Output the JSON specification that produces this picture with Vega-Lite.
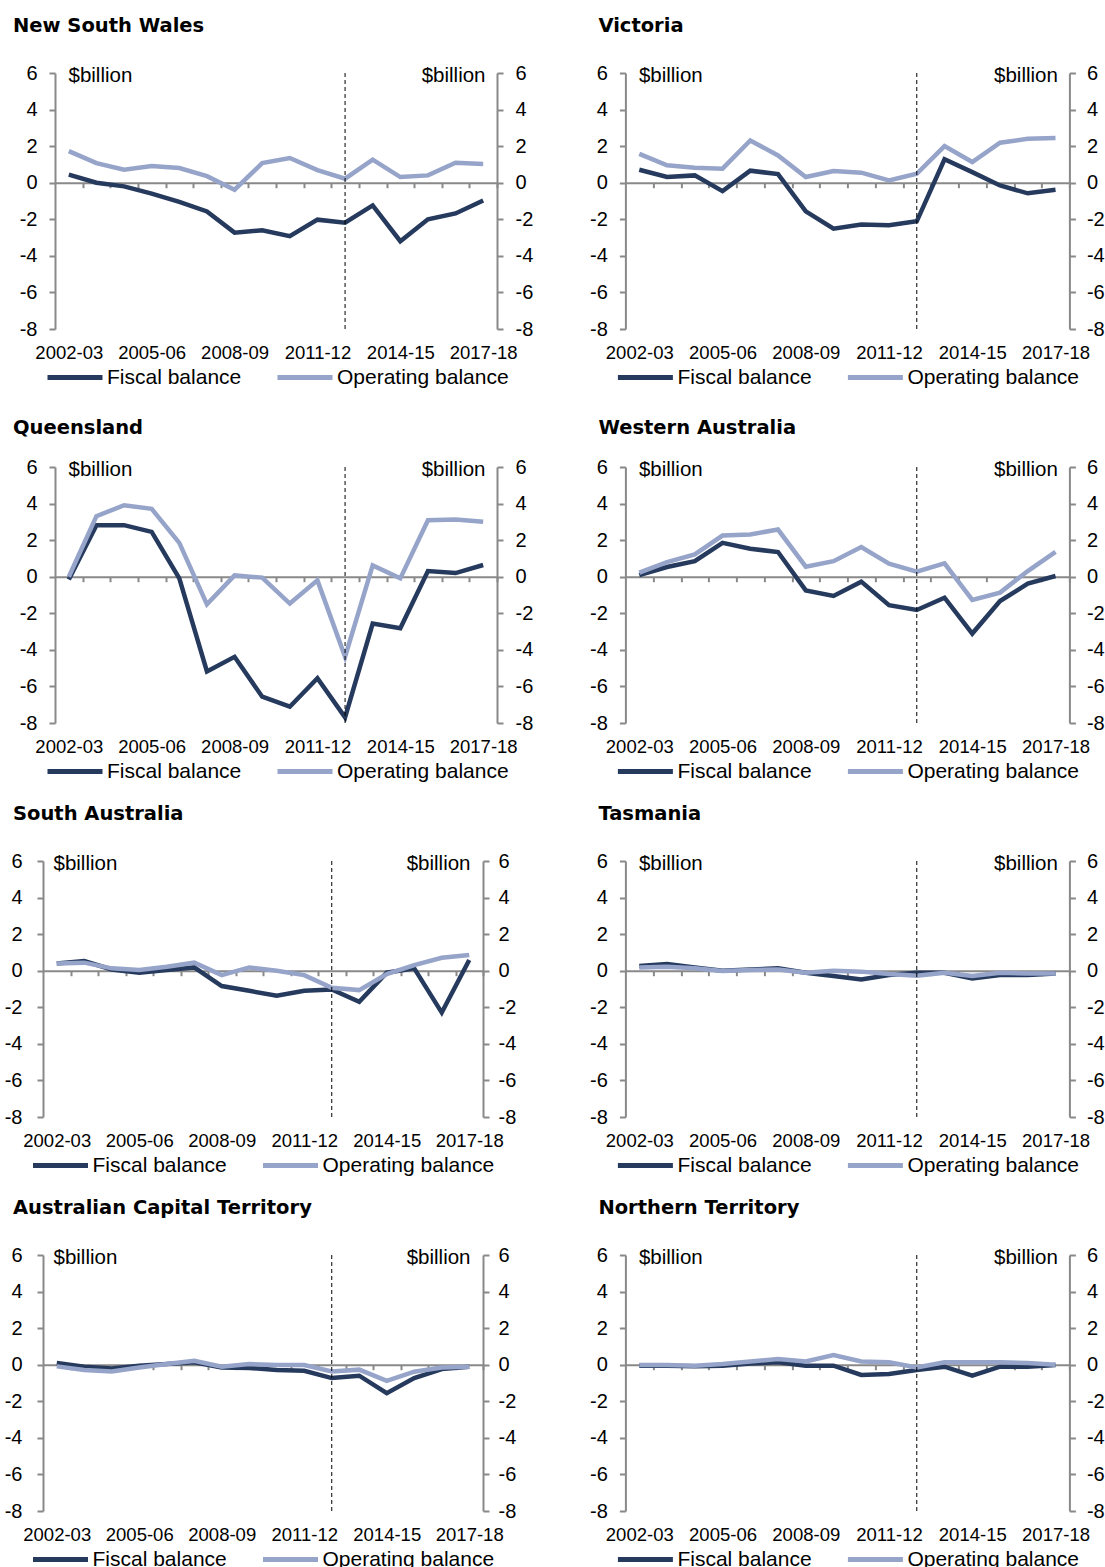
{
"$schema": "https://vega.github.io/schema/vega-lite/v6.json",
"padding": {"left": 3, "top": 15, "right": 0, "bottom": 0},
"background": "white",
"datasets": {"fb": [
{"s":"NSW","y":"2002-03","Fiscal balance":0.44,"Operating balance":1.73},
{"s":"NSW","y":"2003-04","Fiscal balance":0.0,"Operating balance":1.07},
{"s":"NSW","y":"2004-05","Fiscal balance":-0.2,"Operating balance":0.71},
{"s":"NSW","y":"2005-06","Fiscal balance":-0.6,"Operating balance":0.91},
{"s":"NSW","y":"2006-07","Fiscal balance":-1.05,"Operating balance":0.8},
{"s":"NSW","y":"2007-08","Fiscal balance":-1.57,"Operating balance":0.36},
{"s":"NSW","y":"2008-09","Fiscal balance":-2.73,"Operating balance":-0.38},
{"s":"NSW","y":"2009-10","Fiscal balance":-2.6,"Operating balance":1.07},
{"s":"NSW","y":"2010-11","Fiscal balance":-2.92,"Operating balance":1.35},
{"s":"NSW","y":"2011-12","Fiscal balance":-2.02,"Operating balance":0.69},
{"s":"NSW","y":"2012-13","Fiscal balance":-2.19,"Operating balance":0.22},
{"s":"NSW","y":"2013-14","Fiscal balance":-1.24,"Operating balance":1.26},
{"s":"NSW","y":"2014-15","Fiscal balance":-3.2,"Operating balance":0.31},
{"s":"NSW","y":"2015-16","Fiscal balance":-2.0,"Operating balance":0.4},
{"s":"NSW","y":"2016-17","Fiscal balance":-1.68,"Operating balance":1.09},
{"s":"NSW","y":"2017-18","Fiscal balance":-0.97,"Operating balance":1.02},
{"s":"VIC","y":"2002-03","Fiscal balance":0.71,"Operating balance":1.58},
{"s":"VIC","y":"2003-04","Fiscal balance":0.31,"Operating balance":0.95},
{"s":"VIC","y":"2004-05","Fiscal balance":0.4,"Operating balance":0.82},
{"s":"VIC","y":"2005-06","Fiscal balance":-0.46,"Operating balance":0.77},
{"s":"VIC","y":"2006-07","Fiscal balance":0.66,"Operating balance":2.31},
{"s":"VIC","y":"2007-08","Fiscal balance":0.47,"Operating balance":1.49},
{"s":"VIC","y":"2008-09","Fiscal balance":-1.57,"Operating balance":0.31},
{"s":"VIC","y":"2009-10","Fiscal balance":-2.51,"Operating balance":0.64},
{"s":"VIC","y":"2010-11","Fiscal balance":-2.28,"Operating balance":0.55},
{"s":"VIC","y":"2011-12","Fiscal balance":-2.33,"Operating balance":0.13},
{"s":"VIC","y":"2012-13","Fiscal balance":-2.11,"Operating balance":0.49},
{"s":"VIC","y":"2013-14","Fiscal balance":1.28,"Operating balance":2.0},
{"s":"VIC","y":"2014-15","Fiscal balance":0.58,"Operating balance":1.13},
{"s":"VIC","y":"2015-16","Fiscal balance":-0.15,"Operating balance":2.19},
{"s":"VIC","y":"2016-17","Fiscal balance":-0.58,"Operating balance":2.4},
{"s":"VIC","y":"2017-18","Fiscal balance":-0.38,"Operating balance":2.44},
{"s":"QLD","y":"2002-03","Fiscal balance":-0.15,"Operating balance":0.0},
{"s":"QLD","y":"2003-04","Fiscal balance":2.82,"Operating balance":3.31},
{"s":"QLD","y":"2004-05","Fiscal balance":2.82,"Operating balance":3.91},
{"s":"QLD","y":"2005-06","Fiscal balance":2.45,"Operating balance":3.71},
{"s":"QLD","y":"2006-07","Fiscal balance":-0.09,"Operating balance":1.85},
{"s":"QLD","y":"2007-08","Fiscal balance":-5.18,"Operating balance":-1.51},
{"s":"QLD","y":"2008-09","Fiscal balance":-4.38,"Operating balance":0.07},
{"s":"QLD","y":"2009-10","Fiscal balance":-6.56,"Operating balance":-0.05},
{"s":"QLD","y":"2010-11","Fiscal balance":-7.11,"Operating balance":-1.47},
{"s":"QLD","y":"2011-12","Fiscal balance":-5.55,"Operating balance":-0.2},
{"s":"QLD","y":"2012-13","Fiscal balance":-7.69,"Operating balance":-4.38},
{"s":"QLD","y":"2013-14","Fiscal balance":-2.56,"Operating balance":0.62},
{"s":"QLD","y":"2014-15","Fiscal balance":-2.82,"Operating balance":-0.09},
{"s":"QLD","y":"2015-16","Fiscal balance":0.31,"Operating balance":3.09},
{"s":"QLD","y":"2016-17","Fiscal balance":0.2,"Operating balance":3.13},
{"s":"QLD","y":"2017-18","Fiscal balance":0.64,"Operating balance":3.0},
{"s":"WA","y":"2002-03","Fiscal balance":0.09,"Operating balance":0.22},
{"s":"WA","y":"2003-04","Fiscal balance":0.53,"Operating balance":0.8},
{"s":"WA","y":"2004-05","Fiscal balance":0.85,"Operating balance":1.22},
{"s":"WA","y":"2005-06","Fiscal balance":1.85,"Operating balance":2.25},
{"s":"WA","y":"2006-07","Fiscal balance":1.53,"Operating balance":2.31},
{"s":"WA","y":"2007-08","Fiscal balance":1.35,"Operating balance":2.58},
{"s":"WA","y":"2008-09","Fiscal balance":-0.75,"Operating balance":0.55},
{"s":"WA","y":"2009-10","Fiscal balance":-1.05,"Operating balance":0.85},
{"s":"WA","y":"2010-11","Fiscal balance":-0.27,"Operating balance":1.62},
{"s":"WA","y":"2011-12","Fiscal balance":-1.56,"Operating balance":0.71},
{"s":"WA","y":"2012-13","Fiscal balance":-1.82,"Operating balance":0.27},
{"s":"WA","y":"2013-14","Fiscal balance":-1.15,"Operating balance":0.73},
{"s":"WA","y":"2014-15","Fiscal balance":-3.11,"Operating balance":-1.27},
{"s":"WA","y":"2015-16","Fiscal balance":-1.33,"Operating balance":-0.87},
{"s":"WA","y":"2016-17","Fiscal balance":-0.38,"Operating balance":0.31},
{"s":"WA","y":"2017-18","Fiscal balance":0.04,"Operating balance":1.36},
{"s":"SA","y":"2002-03","Fiscal balance":0.4,"Operating balance":0.4},
{"s":"SA","y":"2003-04","Fiscal balance":0.53,"Operating balance":0.44},
{"s":"SA","y":"2004-05","Fiscal balance":0.07,"Operating balance":0.13},
{"s":"SA","y":"2005-06","Fiscal balance":-0.11,"Operating balance":0.04},
{"s":"SA","y":"2006-07","Fiscal balance":0.04,"Operating balance":0.22},
{"s":"SA","y":"2007-08","Fiscal balance":0.18,"Operating balance":0.44},
{"s":"SA","y":"2008-09","Fiscal balance":-0.84,"Operating balance":-0.24},
{"s":"SA","y":"2009-10","Fiscal balance":-1.1,"Operating balance":0.18},
{"s":"SA","y":"2010-11","Fiscal balance":-1.37,"Operating balance":0.0},
{"s":"SA","y":"2011-12","Fiscal balance":-1.1,"Operating balance":-0.24},
{"s":"SA","y":"2012-13","Fiscal balance":-1.03,"Operating balance":-0.93},
{"s":"SA","y":"2013-14","Fiscal balance":-1.7,"Operating balance":-1.06},
{"s":"SA","y":"2014-15","Fiscal balance":-0.11,"Operating balance":-0.18},
{"s":"SA","y":"2015-16","Fiscal balance":0.13,"Operating balance":0.31},
{"s":"SA","y":"2016-17","Fiscal balance":-2.29,"Operating balance":0.71},
{"s":"SA","y":"2017-18","Fiscal balance":0.59,"Operating balance":0.86},
{"s":"TAS","y":"2002-03","Fiscal balance":0.26,"Operating balance":0.18},
{"s":"TAS","y":"2003-04","Fiscal balance":0.37,"Operating balance":0.22},
{"s":"TAS","y":"2004-05","Fiscal balance":0.18,"Operating balance":0.13},
{"s":"TAS","y":"2005-06","Fiscal balance":0.0,"Operating balance":-0.02},
{"s":"TAS","y":"2006-07","Fiscal balance":0.07,"Operating balance":0.04},
{"s":"TAS","y":"2007-08","Fiscal balance":0.13,"Operating balance":0.07},
{"s":"TAS","y":"2008-09","Fiscal balance":-0.11,"Operating balance":-0.11},
{"s":"TAS","y":"2009-10","Fiscal balance":-0.29,"Operating balance":0.0},
{"s":"TAS","y":"2010-11","Fiscal balance":-0.48,"Operating balance":-0.05},
{"s":"TAS","y":"2011-12","Fiscal balance":-0.24,"Operating balance":-0.18},
{"s":"TAS","y":"2012-13","Fiscal balance":-0.11,"Operating balance":-0.27},
{"s":"TAS","y":"2013-14","Fiscal balance":-0.11,"Operating balance":-0.11},
{"s":"TAS","y":"2014-15","Fiscal balance":-0.42,"Operating balance":-0.29},
{"s":"TAS","y":"2015-16","Fiscal balance":-0.24,"Operating balance":-0.11},
{"s":"TAS","y":"2016-17","Fiscal balance":-0.24,"Operating balance":-0.15},
{"s":"TAS","y":"2017-18","Fiscal balance":-0.15,"Operating balance":-0.15},
{"s":"ACT","y":"2002-03","Fiscal balance":0.09,"Operating balance":-0.09},
{"s":"ACT","y":"2003-04","Fiscal balance":-0.11,"Operating balance":-0.29},
{"s":"ACT","y":"2004-05","Fiscal balance":-0.2,"Operating balance":-0.37},
{"s":"ACT","y":"2005-06","Fiscal balance":-0.05,"Operating balance":-0.15},
{"s":"ACT","y":"2006-07","Fiscal balance":0.04,"Operating balance":0.04},
{"s":"ACT","y":"2007-08","Fiscal balance":0.13,"Operating balance":0.22},
{"s":"ACT","y":"2008-09","Fiscal balance":-0.15,"Operating balance":-0.11},
{"s":"ACT","y":"2009-10","Fiscal balance":-0.18,"Operating balance":0.04},
{"s":"ACT","y":"2010-11","Fiscal balance":-0.29,"Operating balance":-0.02},
{"s":"ACT","y":"2011-12","Fiscal balance":-0.33,"Operating balance":-0.02},
{"s":"ACT","y":"2012-13","Fiscal balance":-0.73,"Operating balance":-0.37},
{"s":"ACT","y":"2013-14","Fiscal balance":-0.6,"Operating balance":-0.27},
{"s":"ACT","y":"2014-15","Fiscal balance":-1.56,"Operating balance":-0.88},
{"s":"ACT","y":"2015-16","Fiscal balance":-0.73,"Operating balance":-0.38},
{"s":"ACT","y":"2016-17","Fiscal balance":-0.24,"Operating balance":-0.15},
{"s":"ACT","y":"2017-18","Fiscal balance":-0.11,"Operating balance":-0.11},
{"s":"NT","y":"2002-03","Fiscal balance":-0.05,"Operating balance":-0.02},
{"s":"NT","y":"2003-04","Fiscal balance":-0.05,"Operating balance":-0.02},
{"s":"NT","y":"2004-05","Fiscal balance":-0.09,"Operating balance":-0.05},
{"s":"NT","y":"2005-06","Fiscal balance":-0.05,"Operating balance":0.04},
{"s":"NT","y":"2006-07","Fiscal balance":0.07,"Operating balance":0.18},
{"s":"NT","y":"2007-08","Fiscal balance":0.13,"Operating balance":0.31},
{"s":"NT","y":"2008-09","Fiscal balance":-0.05,"Operating balance":0.18},
{"s":"NT","y":"2009-10","Fiscal balance":-0.05,"Operating balance":0.53},
{"s":"NT","y":"2010-11","Fiscal balance":-0.56,"Operating balance":0.18},
{"s":"NT","y":"2011-12","Fiscal balance":-0.51,"Operating balance":0.13},
{"s":"NT","y":"2012-13","Fiscal balance":-0.29,"Operating balance":-0.15},
{"s":"NT","y":"2013-14","Fiscal balance":-0.11,"Operating balance":0.13},
{"s":"NT","y":"2014-15","Fiscal balance":-0.6,"Operating balance":0.13},
{"s":"NT","y":"2015-16","Fiscal balance":-0.11,"Operating balance":0.13},
{"s":"NT","y":"2016-17","Fiscal balance":-0.11,"Operating balance":0.09},
{"s":"NT","y":"2017-18","Fiscal balance":-0.02,"Operating balance":0.0}
]},
"spacing": 21,
"resolve": {"scale": {"color": "independent"}, "legend": {"color": "independent"}},
"vconcat": [
{"hconcat": [
{"width": 1, "height": 323, "data": {"values": []}, "mark": "point"},
{"hconcat": [
{"title": {"text": "New South Wales", "dx": -42}, "width": 442, "height": 256,
 "layer": [
  {"data": {"name": "fb"}, "transform": [{"filter": {"field": "s", "equal": "NSW"}}, {"fold": ["Fiscal balance", "Operating balance"], "as": ["series", "value"]}],
   "mark": {"type": "line", "strokeWidth": 4.5},
   "encoding": {
    "x": {"field": "y", "type": "ordinal", "scale": {"type": "point", "padding": 0.5}, "axis": {"values": ["2002-03","2005-06","2008-09","2011-12","2014-15","2017-18"], "title": null, "domain": false, "ticks": false, "tickSize": 0, "labelPadding": 14, "labelFontSize": 18.5, "labelAngle": 0, "labelOverlap": false, "labelBaseline": "top"}},
    "y": {"field": "value", "type": "quantitative", "scale": {"domain": [-8, 6], "nice": false, "zero": false}, "axis": {"orient": "left", "title": "$billion", "values": [-8,-6,-4,-2,0,2,4,6], "labelExpr": "'' + datum.value", "minExtent": 52, "labelPadding": 12, "titleX": 13, "titleY": 8, "titleAlign": "left", "titleBaseline": "alphabetic", "titleAngle": 0}},
    "color": {"field": "series", "type": "nominal", "scale": {"domain": ["Fiscal balance", "Operating balance"], "range": ["#263a5e", "#96a4ca"]}, "legend": {"orient": "none", "legendX": -10, "legendY": 274.5, "direction": "horizontal", "title": null}}
   }},
  {"data": {"values": [{"m": "2012-13"}]},
   "mark": {"type": "rule", "strokeDash": [4, 3], "color": "#000", "strokeWidth": 1},
   "encoding": {
    "x": {"field": "m", "type": "ordinal", "scale": {"type": "point", "padding": 0.5}, "axis": {"orient": "top", "title": null, "labels": false, "tickSize": -5, "tickOffset": 13.8125, "offset": -109.71}},
    "y": {"datum": -8, "type": "quantitative", "axis": {"orient": "right", "title": "$billion", "values": [-8,-6,-4,-2,0,2,4,6], "labelExpr": "'' + datum.value", "labelPadding": 12, "titleX": -12, "titleY": 8, "titleAlign": "right", "titleBaseline": "alphabetic", "titleAngle": 0}},
    "y2": {"datum": 6}
   }}
 ],
 "resolve": {"axis": {"x": "independent", "y": "independent"}}},
{"title": {"text": "Victoria", "dx": -27}, "width": 444, "height": 256,
 "layer": [
  {"data": {"name": "fb"}, "transform": [{"filter": {"field": "s", "equal": "VIC"}}, {"fold": ["Fiscal balance", "Operating balance"], "as": ["series", "value"]}],
   "mark": {"type": "line", "strokeWidth": 4.5},
   "encoding": {
    "x": {"field": "y", "type": "ordinal", "scale": {"type": "point", "padding": 0.5}, "axis": {"values": ["2002-03","2005-06","2008-09","2011-12","2014-15","2017-18"], "title": null, "domain": false, "ticks": false, "tickSize": 0, "labelPadding": 14, "labelFontSize": 18.5, "labelAngle": 0, "labelOverlap": false, "labelBaseline": "top"}},
    "y": {"field": "value", "type": "quantitative", "scale": {"domain": [-8, 6], "nice": false, "zero": false}, "axis": {"orient": "left", "title": "$billion", "values": [-8,-6,-4,-2,0,2,4,6], "labelExpr": "'' + datum.value", "labelPadding": 12, "titleX": 13, "titleY": 8, "titleAlign": "left", "titleBaseline": "alphabetic", "titleAngle": 0}},
    "color": {"field": "series", "type": "nominal", "scale": {"domain": ["Fiscal balance", "Operating balance"], "range": ["#263a5e", "#96a4ca"]}, "legend": {"orient": "none", "legendX": -10, "legendY": 274.5, "direction": "horizontal", "title": null}}
   }},
  {"data": {"values": [{"m": "2012-13"}]},
   "mark": {"type": "rule", "strokeDash": [4, 3], "color": "#000", "strokeWidth": 1},
   "encoding": {
    "x": {"field": "m", "type": "ordinal", "scale": {"type": "point", "padding": 0.5}, "axis": {"orient": "top", "title": null, "labels": false, "tickSize": -5, "tickOffset": 13.875, "offset": -109.71}},
    "y": {"datum": -8, "type": "quantitative", "axis": {"orient": "right", "title": "$billion", "values": [-8,-6,-4,-2,0,2,4,6], "labelExpr": "'' + datum.value", "labelPadding": 11, "titleX": -12, "titleY": 8, "titleAlign": "right", "titleBaseline": "alphabetic", "titleAngle": 0}},
    "y2": {"datum": 6}
   }}
 ],
 "resolve": {"axis": {"x": "independent", "y": "independent"}}}
], "spacing": 56.4, "resolve": {"scale": {"color": "independent"}, "legend": {"color": "independent"}}}
], "spacing": -41, "resolve": {"scale": {"color": "independent"}, "legend": {"color": "independent"}}},
{"hconcat": [
{"width": 1, "height": 1, "data": {"values": []}, "mark": "point"},
{"hconcat": [
{"title": {"text": "Queensland", "dx": -42, "offset": 19}, "width": 442, "height": 256,
 "layer": [
  {"data": {"name": "fb"}, "transform": [{"filter": {"field": "s", "equal": "QLD"}}, {"fold": ["Fiscal balance", "Operating balance"], "as": ["series", "value"]}],
   "mark": {"type": "line", "strokeWidth": 4.5},
   "encoding": {
    "x": {"field": "y", "type": "ordinal", "scale": {"type": "point", "padding": 0.5}, "axis": {"values": ["2002-03","2005-06","2008-09","2011-12","2014-15","2017-18"], "title": null, "domain": false, "ticks": false, "tickSize": 0, "labelPadding": 14, "labelFontSize": 18.5, "labelAngle": 0, "labelOverlap": false, "labelBaseline": "top"}},
    "y": {"field": "value", "type": "quantitative", "scale": {"domain": [-8, 6], "nice": false, "zero": false}, "axis": {"orient": "left", "title": "$billion", "values": [-8,-6,-4,-2,0,2,4,6], "labelExpr": "'' + datum.value", "minExtent": 52, "labelPadding": 12, "titleX": 13, "titleY": 8, "titleAlign": "left", "titleBaseline": "alphabetic", "titleAngle": 0}},
    "color": {"field": "series", "type": "nominal", "scale": {"domain": ["Fiscal balance", "Operating balance"], "range": ["#263a5e", "#96a4ca"]}, "legend": {"orient": "none", "legendX": -10, "legendY": 274.5, "direction": "horizontal", "title": null}}
   }},
  {"data": {"values": [{"m": "2012-13"}]},
   "mark": {"type": "rule", "strokeDash": [4, 3], "color": "#000", "strokeWidth": 1},
   "encoding": {
    "x": {"field": "m", "type": "ordinal", "scale": {"type": "point", "padding": 0.5}, "axis": {"orient": "top", "title": null, "labels": false, "tickSize": -5, "tickOffset": 13.8125, "offset": -109.71}},
    "y": {"datum": -8, "type": "quantitative", "axis": {"orient": "right", "title": "$billion", "values": [-8,-6,-4,-2,0,2,4,6], "labelExpr": "'' + datum.value", "labelPadding": 12, "titleX": -12, "titleY": 8, "titleAlign": "right", "titleBaseline": "alphabetic", "titleAngle": 0}},
    "y2": {"datum": 6}
   }}
 ],
 "resolve": {"axis": {"x": "independent", "y": "independent"}}},
{"title": {"text": "Western Australia", "dx": -27, "offset": 19}, "width": 444, "height": 256,
 "layer": [
  {"data": {"name": "fb"}, "transform": [{"filter": {"field": "s", "equal": "WA"}}, {"fold": ["Fiscal balance", "Operating balance"], "as": ["series", "value"]}],
   "mark": {"type": "line", "strokeWidth": 4.5},
   "encoding": {
    "x": {"field": "y", "type": "ordinal", "scale": {"type": "point", "padding": 0.5}, "axis": {"values": ["2002-03","2005-06","2008-09","2011-12","2014-15","2017-18"], "title": null, "domain": false, "ticks": false, "tickSize": 0, "labelPadding": 14, "labelFontSize": 18.5, "labelAngle": 0, "labelOverlap": false, "labelBaseline": "top"}},
    "y": {"field": "value", "type": "quantitative", "scale": {"domain": [-8, 6], "nice": false, "zero": false}, "axis": {"orient": "left", "title": "$billion", "values": [-8,-6,-4,-2,0,2,4,6], "labelExpr": "'' + datum.value", "labelPadding": 12, "titleX": 13, "titleY": 8, "titleAlign": "left", "titleBaseline": "alphabetic", "titleAngle": 0}},
    "color": {"field": "series", "type": "nominal", "scale": {"domain": ["Fiscal balance", "Operating balance"], "range": ["#263a5e", "#96a4ca"]}, "legend": {"orient": "none", "legendX": -10, "legendY": 274.5, "direction": "horizontal", "title": null}}
   }},
  {"data": {"values": [{"m": "2012-13"}]},
   "mark": {"type": "rule", "strokeDash": [4, 3], "color": "#000", "strokeWidth": 1},
   "encoding": {
    "x": {"field": "m", "type": "ordinal", "scale": {"type": "point", "padding": 0.5}, "axis": {"orient": "top", "title": null, "labels": false, "tickSize": -5, "tickOffset": 13.875, "offset": -109.71}},
    "y": {"datum": -8, "type": "quantitative", "axis": {"orient": "right", "title": "$billion", "values": [-8,-6,-4,-2,0,2,4,6], "labelExpr": "'' + datum.value", "labelPadding": 11, "titleX": -12, "titleY": 8, "titleAlign": "right", "titleBaseline": "alphabetic", "titleAngle": 0}},
    "y2": {"datum": 6}
   }}
 ],
 "resolve": {"axis": {"x": "independent", "y": "independent"}}}
], "spacing": 56.4, "resolve": {"scale": {"color": "independent"}, "legend": {"color": "independent"}}}
], "spacing": -41, "resolve": {"scale": {"color": "independent"}, "legend": {"color": "independent"}}},
{"hconcat": [
{"title": {"text": "South Australia", "dx": -30}, "width": 440, "height": 256,
 "layer": [
  {"data": {"name": "fb"}, "transform": [{"filter": {"field": "s", "equal": "SA"}}, {"fold": ["Fiscal balance", "Operating balance"], "as": ["series", "value"]}],
   "mark": {"type": "line", "strokeWidth": 4.5},
   "encoding": {
    "x": {"field": "y", "type": "ordinal", "scale": {"type": "point", "padding": 0.5}, "axis": {"values": ["2002-03","2005-06","2008-09","2011-12","2014-15","2017-18"], "title": null, "domain": false, "ticks": false, "tickSize": 0, "labelPadding": 14, "labelFontSize": 18.5, "labelAngle": 0, "labelOverlap": false, "labelBaseline": "top"}},
    "y": {"field": "value", "type": "quantitative", "scale": {"domain": [-8, 6], "nice": false, "zero": false}, "axis": {"orient": "left", "title": "$billion", "values": [-8,-6,-4,-2,0,2,4,6], "labelExpr": "'' + datum.value", "minExtent": 40, "labelPadding": 15, "titleX": 10, "titleY": 8, "titleAlign": "left", "titleBaseline": "alphabetic", "titleAngle": 0}},
    "color": {"field": "series", "type": "nominal", "scale": {"domain": ["Fiscal balance", "Operating balance"], "range": ["#263a5e", "#96a4ca"]}, "legend": {"orient": "none", "legendX": -12.5, "legendY": 274.5, "direction": "horizontal", "title": null}}
   }},
  {"data": {"values": [{"m": "2012-13"}]},
   "mark": {"type": "rule", "strokeDash": [4, 3], "color": "#000", "strokeWidth": 1},
   "encoding": {
    "x": {"field": "m", "type": "ordinal", "scale": {"type": "point", "padding": 0.5}, "axis": {"orient": "top", "title": null, "labels": false, "tickSize": -5, "tickOffset": 13.75, "offset": -109.71}},
    "y": {"datum": -8, "type": "quantitative", "axis": {"orient": "right", "title": "$billion", "values": [-8,-6,-4,-2,0,2,4,6], "labelExpr": "'' + datum.value", "labelPadding": 9, "titleX": -13, "titleY": 8, "titleAlign": "right", "titleBaseline": "alphabetic", "titleAngle": 0}},
    "y2": {"datum": 6}
   }}
 ],
 "resolve": {"axis": {"x": "independent", "y": "independent"}}},
{"title": {"text": "Tasmania", "dx": -27}, "width": 444, "height": 256,
 "layer": [
  {"data": {"name": "fb"}, "transform": [{"filter": {"field": "s", "equal": "TAS"}}, {"fold": ["Fiscal balance", "Operating balance"], "as": ["series", "value"]}],
   "mark": {"type": "line", "strokeWidth": 4.5},
   "encoding": {
    "x": {"field": "y", "type": "ordinal", "scale": {"type": "point", "padding": 0.5}, "axis": {"values": ["2002-03","2005-06","2008-09","2011-12","2014-15","2017-18"], "title": null, "domain": false, "ticks": false, "tickSize": 0, "labelPadding": 14, "labelFontSize": 18.5, "labelAngle": 0, "labelOverlap": false, "labelBaseline": "top"}},
    "y": {"field": "value", "type": "quantitative", "scale": {"domain": [-8, 6], "nice": false, "zero": false}, "axis": {"orient": "left", "title": "$billion", "values": [-8,-6,-4,-2,0,2,4,6], "labelExpr": "'' + datum.value", "labelPadding": 12, "titleX": 13, "titleY": 8, "titleAlign": "left", "titleBaseline": "alphabetic", "titleAngle": 0}},
    "color": {"field": "series", "type": "nominal", "scale": {"domain": ["Fiscal balance", "Operating balance"], "range": ["#263a5e", "#96a4ca"]}, "legend": {"orient": "none", "legendX": -10, "legendY": 274.5, "direction": "horizontal", "title": null}}
   }},
  {"data": {"values": [{"m": "2012-13"}]},
   "mark": {"type": "rule", "strokeDash": [4, 3], "color": "#000", "strokeWidth": 1},
   "encoding": {
    "x": {"field": "m", "type": "ordinal", "scale": {"type": "point", "padding": 0.5}, "axis": {"orient": "top", "title": null, "labels": false, "tickSize": -5, "tickOffset": 13.875, "offset": -109.71}},
    "y": {"datum": -8, "type": "quantitative", "axis": {"orient": "right", "title": "$billion", "values": [-8,-6,-4,-2,0,2,4,6], "labelExpr": "'' + datum.value", "labelPadding": 11, "titleX": -12, "titleY": 8, "titleAlign": "right", "titleBaseline": "alphabetic", "titleAngle": 0}},
    "y2": {"datum": 6}
   }}
 ],
 "resolve": {"axis": {"x": "independent", "y": "independent"}}}
], "spacing": 73.4, "resolve": {"scale": {"color": "independent"}, "legend": {"color": "independent"}}},
{"hconcat": [
{"title": {"text": "Australian Capital Territory", "dx": -30}, "width": 440, "height": 256,
 "layer": [
  {"data": {"name": "fb"}, "transform": [{"filter": {"field": "s", "equal": "ACT"}}, {"fold": ["Fiscal balance", "Operating balance"], "as": ["series", "value"]}],
   "mark": {"type": "line", "strokeWidth": 4.5},
   "encoding": {
    "x": {"field": "y", "type": "ordinal", "scale": {"type": "point", "padding": 0.5}, "axis": {"values": ["2002-03","2005-06","2008-09","2011-12","2014-15","2017-18"], "title": null, "domain": false, "ticks": false, "tickSize": 0, "labelPadding": 14, "labelFontSize": 18.5, "labelAngle": 0, "labelOverlap": false, "labelBaseline": "top"}},
    "y": {"field": "value", "type": "quantitative", "scale": {"domain": [-8, 6], "nice": false, "zero": false}, "axis": {"orient": "left", "title": "$billion", "values": [-8,-6,-4,-2,0,2,4,6], "labelExpr": "'' + datum.value", "minExtent": 40, "labelPadding": 15, "titleX": 10, "titleY": 8, "titleAlign": "left", "titleBaseline": "alphabetic", "titleAngle": 0}},
    "color": {"field": "series", "type": "nominal", "scale": {"domain": ["Fiscal balance", "Operating balance"], "range": ["#263a5e", "#96a4ca"]}, "legend": {"orient": "none", "legendX": -12.5, "legendY": 274.5, "direction": "horizontal", "title": null}}
   }},
  {"data": {"values": [{"m": "2012-13"}]},
   "mark": {"type": "rule", "strokeDash": [4, 3], "color": "#000", "strokeWidth": 1},
   "encoding": {
    "x": {"field": "m", "type": "ordinal", "scale": {"type": "point", "padding": 0.5}, "axis": {"orient": "top", "title": null, "labels": false, "tickSize": -5, "tickOffset": 13.75, "offset": -109.71}},
    "y": {"datum": -8, "type": "quantitative", "axis": {"orient": "right", "title": "$billion", "values": [-8,-6,-4,-2,0,2,4,6], "labelExpr": "'' + datum.value", "labelPadding": 9, "titleX": -13, "titleY": 8, "titleAlign": "right", "titleBaseline": "alphabetic", "titleAngle": 0}},
    "y2": {"datum": 6}
   }}
 ],
 "resolve": {"axis": {"x": "independent", "y": "independent"}}},
{"title": {"text": "Northern Territory", "dx": -27}, "width": 444, "height": 256,
 "layer": [
  {"data": {"name": "fb"}, "transform": [{"filter": {"field": "s", "equal": "NT"}}, {"fold": ["Fiscal balance", "Operating balance"], "as": ["series", "value"]}],
   "mark": {"type": "line", "strokeWidth": 4.5},
   "encoding": {
    "x": {"field": "y", "type": "ordinal", "scale": {"type": "point", "padding": 0.5}, "axis": {"values": ["2002-03","2005-06","2008-09","2011-12","2014-15","2017-18"], "title": null, "domain": false, "ticks": false, "tickSize": 0, "labelPadding": 14, "labelFontSize": 18.5, "labelAngle": 0, "labelOverlap": false, "labelBaseline": "top"}},
    "y": {"field": "value", "type": "quantitative", "scale": {"domain": [-8, 6], "nice": false, "zero": false}, "axis": {"orient": "left", "title": "$billion", "values": [-8,-6,-4,-2,0,2,4,6], "labelExpr": "'' + datum.value", "labelPadding": 12, "titleX": 13, "titleY": 8, "titleAlign": "left", "titleBaseline": "alphabetic", "titleAngle": 0}},
    "color": {"field": "series", "type": "nominal", "scale": {"domain": ["Fiscal balance", "Operating balance"], "range": ["#263a5e", "#96a4ca"]}, "legend": {"orient": "none", "legendX": -10, "legendY": 274.5, "direction": "horizontal", "title": null}}
   }},
  {"data": {"values": [{"m": "2012-13"}]},
   "mark": {"type": "rule", "strokeDash": [4, 3], "color": "#000", "strokeWidth": 1},
   "encoding": {
    "x": {"field": "m", "type": "ordinal", "scale": {"type": "point", "padding": 0.5}, "axis": {"orient": "top", "title": null, "labels": false, "tickSize": -5, "tickOffset": 13.875, "offset": -109.71}},
    "y": {"datum": -8, "type": "quantitative", "axis": {"orient": "right", "title": "$billion", "values": [-8,-6,-4,-2,0,2,4,6], "labelExpr": "'' + datum.value", "labelPadding": 11, "titleX": -12, "titleY": 8, "titleAlign": "right", "titleBaseline": "alphabetic", "titleAngle": 0}},
    "y2": {"datum": 6}
   }}
 ],
 "resolve": {"axis": {"x": "independent", "y": "independent"}}}
], "spacing": 73.4, "resolve": {"scale": {"color": "independent"}, "legend": {"color": "independent"}}}
],
"config": {
 "view": {"stroke": null},
 "font": "Liberation Sans",
 "title": {"anchor": "start", "frame": "group", "offset": 27, "baseline": "alphabetic", "font": "DejaVu Sans", "fontSize": 19.5, "fontWeight": "bold", "color": "#000"},
 "axis": {"grid": false, "domainColor": "#898989", "domainWidth": 2, "tickColor": "#898989", "tickWidth": 2, "tickSize": 6, "labelFont": "Liberation Sans", "labelFontSize": 20, "labelColor": "#000", "titleFont": "Liberation Sans", "titleFontSize": 20.5, "titleFontWeight": "normal", "titleColor": "#000"},
 "legend": {"symbolType": "stroke", "symbolSize": 3025, "symbolStrokeWidth": 5, "labelFont": "Liberation Sans", "labelFontSize": 21, "labelColor": "#000", "labelOffset": 2, "columnPadding": 25, "padding": 0, "labelLimit": 400}
}
}
